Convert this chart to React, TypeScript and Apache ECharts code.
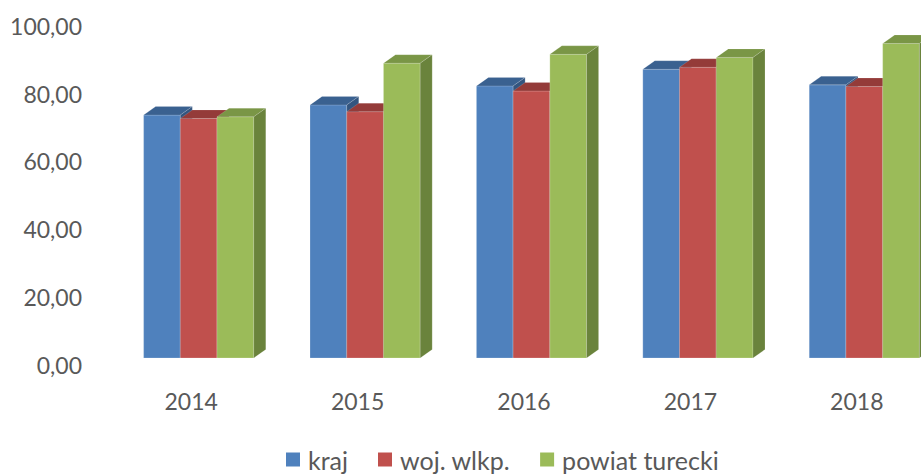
import React, { useEffect, useRef } from "react";
import * as echarts from "echarts";

const categories = ["2014", "2015", "2016", "2017", "2018"];
const seriesNames = ["kraj", "woj. wlkp.", "powiat turecki"];
const kraj = [71.6, 74.6, 80.2, 85.1, 80.5];
const woj = [70.6, 72.6, 78.7, 85.7, 80.0];
const powiat = [71.1, 86.9, 89.5, 88.6, 92.7];
const yTicks = [0, 20, 40, 60, 80, 100];

const colors = ["#4F81BD", "#C0504D", "#9BBB59"];
const topColors = ["#3A6190", "#943B39", "#7A9646"];
const sideColors = ["#33557F", "#833331", "#6A833C"];

const DX = 12;
const DY = 8.5;
const SHIFT_X = 7.5;
const SHIFT_Y = 7;
const BAR_FRAC = 0.2207;

export default function App() {
  const ref = useRef<HTMLDivElement>(null);
  useEffect(() => {
    if (!ref.current) return;
    const chart = echarts.init(ref.current, null, { renderer: "svg" });
    const all = [kraj, woj, powiat];
    const makeSeries = (idx: number) => ({
      type: "custom",
      name: seriesNames[idx],
      itemStyle: { color: colors[idx] },
      data: all[idx].map((v, i) => [i, v]),
      encode: { x: 0, y: 1 },
      clip: false,
      renderItem: (params: any, api: any) => {
        const cat = api.value(0);
        const v = api.value(1);
        const base = api.coord([cat, 0]);
        const top = api.coord([cat, v]);
        const bw = api.size([1, 0])[0];
        const w = bw * BAR_FRAC;
        const x0 = base[0] + SHIFT_X - 1.5 * w + idx * w;
        const yb = base[1] - SHIFT_Y;
        const yt = top[1] - SHIFT_Y;
        const edge = "rgba(255,255,255,0.35)";
        return {
          type: "group",
          children: [
            {
              type: "rect",
              shape: { x: x0, y: yt, width: w, height: yb - yt },
              style: { fill: colors[idx], stroke: edge, lineWidth: 0.6 },
            },
            {
              type: "polygon",
              shape: {
                points: [
                  [x0, yt],
                  [x0 + w, yt],
                  [x0 + w + DX, yt - DY],
                  [x0 + DX, yt - DY],
                ],
              },
              style: { fill: topColors[idx], stroke: edge, lineWidth: 0.4 },
            },
            {
              type: "polygon",
              shape: {
                points: [
                  [x0 + w, yt],
                  [x0 + w + DX, yt - DY],
                  [x0 + w + DX, yb - DY],
                  [x0 + w, yb],
                ],
              },
              style: { fill: sideColors[idx], stroke: edge, lineWidth: 0.4 },
            },
          ],
        };
      },
    });
    const font = "Lato, 'Open Sans', sans-serif";
    chart.setOption({
      animation: false,
      color: colors,
      grid: {
        left: 108,
        right: -19,
        top: 25.7,
        bottom: 111,
        containLabel: false,
        outerBoundsMode: "none",
      },
      legend: {
        data: seriesNames,
        left: 286,
        top: 446,
        padding: 0,
        icon: "rect",
        itemWidth: 14,
        itemHeight: 14,
        itemGap: 30,
        textStyle: {
          fontFamily: font,
          fontSize: 25,
          lineHeight: 27,
          color: "#595959",
          padding: [0, 0, 0, 3],
        },
      },
      xAxis: {
        type: "category",
        data: categories,
        axisLine: { show: false },
        axisTick: { show: false },
        splitLine: { show: false },
        axisLabel: {
          fontFamily: font,
          fontSize: 23,
          color: "#595959",
          margin: 24,
        },
      },
      yAxis: {
        type: "value",
        min: yTicks[0],
        max: yTicks[yTicks.length - 1],
        interval: 20,
        axisLine: { show: false },
        axisTick: { show: false },
        splitLine: { show: false },
        axisLabel: {
          fontFamily: font,
          fontSize: 23,
          color: "#595959",
          margin: 26,
          formatter: (v: number) => v.toFixed(2).replace(".", ","),
        },
      },
      series: [makeSeries(0), makeSeries(1), makeSeries(2)],
    });
    return () => chart.dispose();
  }, []);
  return <div ref={ref} style={{ width: 921, height: 476, position: "absolute", left: 0, top: 0 }} />;
}
